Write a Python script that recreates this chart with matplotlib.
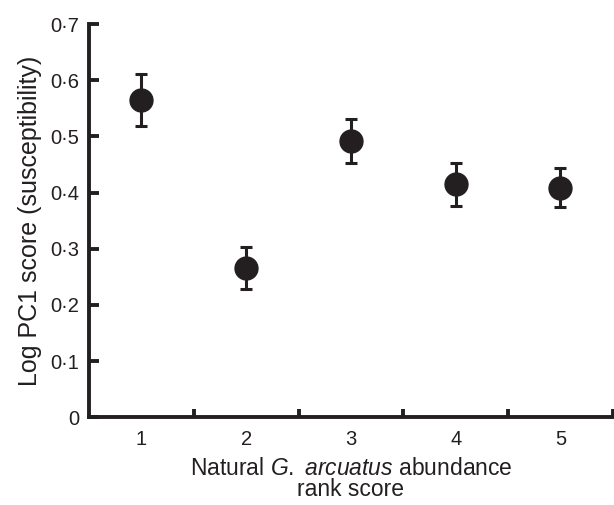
import matplotlib
matplotlib.use("Agg")
import matplotlib.pyplot as plt
from matplotlib.ticker import FuncFormatter

rank = [1, 2, 3, 4, 5]
pc1 = [0.565, 0.266, 0.492, 0.415, 0.408]
err_low = [0.518, 0.229, 0.452, 0.376, 0.375]
err_high = [0.611, 0.304, 0.531, 0.452, 0.443]
yticks = [0, 0.1, 0.2, 0.3, 0.4, 0.5, 0.6, 0.7]

ink = "#231f20"
plt.rcParams["font.family"] = ["Liberation Sans", "DejaVu Sans"]
plt.rcParams["mathtext.fontset"] = "custom"
plt.rcParams["mathtext.rm"] = "Liberation Sans"
plt.rcParams["mathtext.it"] = "Liberation Sans:italic"

fig = plt.figure(figsize=(6.14, 5.05), dpi=100)
ax = fig.add_axes([0.145, 0.174, 0.853, 0.778])

lo = [p - l for p, l in zip(pc1, err_low)]
hi = [h - p for p, h in zip(pc1, err_high)]
ax.errorbar(rank, pc1, yerr=[lo, hi], fmt="o", color=ink, ms=16.5,
            elinewidth=2.2, capsize=4, capthick=2.2)

ax.set_xlim(0.5, 5.5)
ax.set_ylim(0, 0.7)
ax.set_yticks(yticks)
ax.set_xticks([1.5, 2.5, 3.5, 4.5, 5.5])
ax.set_xticks(rank, minor=True)
ax.set_xticklabels([])
ax.set_xticklabels([str(r) for r in rank], minor=True)
ax.yaxis.set_major_formatter(FuncFormatter(
    lambda v, p: "0" if v == 0 else f"{v:.1f}".replace(".", "\u00b7")))

for s in ["top", "right"]:
    ax.spines[s].set_visible(False)
for s in ["left", "bottom"]:
    ax.spines[s].set_linewidth(2.8)
    ax.spines[s].set_color(ink)

ax.tick_params(axis="y", direction="in", length=7, width=2.8, color=ink,
               labelsize=14.5, labelcolor=ink, pad=7)
ax.tick_params(axis="x", which="major", direction="in", length=6, width=2.8,
               color=ink)
ax.tick_params(axis="x", which="minor", length=0, labelsize=14.5,
               labelcolor=ink, pad=9)

ax.set_ylabel("Log PC1 score (susceptibility)", fontsize=18, color=ink,
              labelpad=6)
ax.set_xlabel("Natural $\\mathit{G.}$ $\\mathit{arcuatus}$ abundance\nrank score",
              fontsize=16.5, color=ink, labelpad=6, linespacing=0.9)

fig.savefig("out.png", dpi=100)
